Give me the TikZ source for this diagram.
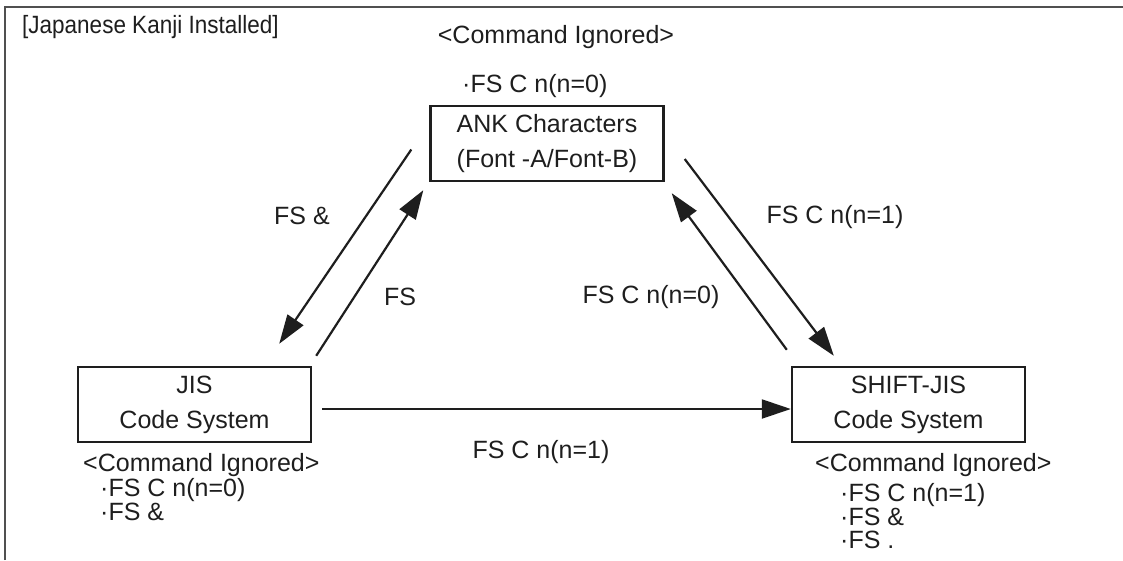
\documentclass[tikz,border=0pt]{standalone}
\usepackage{fontspec}
\setmainfont{Liberation Sans}
\usetikzlibrary{arrows.meta}
\definecolor{inkblack}{RGB}{30,30,30}
\definecolor{framegray}{RGB}{80,80,80}
\tikzset{
  codebox/.style={rectangle, draw=inkblack, line width=2.4pt, minimum width=233pt,
                  minimum height=75pt, inner sep=0pt, align=center, text=inkblack,
                  font=\fontsize{25}{35}\selectfont},
  note/.style   ={inner sep=0pt, anchor=base west, text=inkblack, font=\fontsize{25}{30}\selectfont},
  lbl/.style    ={inner sep=0pt, text=inkblack, font=\fontsize{25}{30}\selectfont},
  flow/.style   ={-{Triangle[length=29pt,width=19pt]}, line width=2.2pt, draw=inkblack},
  frame/.style  ={draw=framegray, line width=2pt},
}

\begin{document}
\begin{tikzpicture}[x=1pt,y=-1pt]
\useasboundingbox (0,0) rectangle (1123,560);
\draw[frame] (5,560) |- (1123,7);

\node[note] (kanji) at (22,33) {\scalebox{0.9}[1]{[Japanese Kanji Installed]}};

% the three code systems
\node[codebox] (ank)  at (547,143.5) {ANK Characters\\(Font -A/Font-B)};
\node[codebox] (jis)  at (194.5,404.5) {JIS\\Code System};
\node[codebox] (sjis) at (908.5,404.5) {SHIFT-JIS\\Code System};

% ignored commands in each mode
\node[lbl, anchor=base] (ankign) at (556,43) {<Command Ignored>};
\node[note] (ankcmd) at (462,92) {·FS C n(n=0)};
\node[note] (jisign) at (83,471) {<Command Ignored>};
\foreach \txt/\yy [count=\i] in {{·FS C n(n=0)}/496, {·FS \&}/520}
  \node[note] (jiscmd\i) at (100,\yy) {\txt};
\node[note] (sjisign) at (815,471) {<Command Ignored>};
\foreach \txt/\yy [count=\i] in {{·FS C n(n=1)}/501, {·FS \&}/525, {·FS .}/548}
  \node[note] (sjiscmd\i) at (840,\yy) {\txt};

% switching commands
\draw[flow] ([shift={(-18,6)}]ank.west) -- ([shift={(-33,-22)}]jis.north east);
\draw[flow] ([shift={(4,-10)}]jis.north east) -- ([shift={(-6,8)}]ank.south west);
\draw[flow] ([shift={(20,15.5)}]ank.east) -- ([shift={(43,-10)}]sjis.north west);
\draw[flow] ([shift={(-4,-16)}]sjis.north west) -- ([shift={(7,11)}]ank.south east);
\draw[flow] ([shift={(10,4.5)}]jis.east) -- ([shift={(0,4.5)}]sjis.west);

\node[lbl] (l1) at (302,216) {FS \&};
\node[lbl] (l2) at (400,297) {FS};
\node[lbl] (l3) at (835,217) {FS C n(n=1)};
\node[lbl] (l4) at (651,297) {FS C n(n=0)};
\node[lbl] (l5) at (541,452) {FS C n(n=1)};
\end{tikzpicture}
\end{document}
